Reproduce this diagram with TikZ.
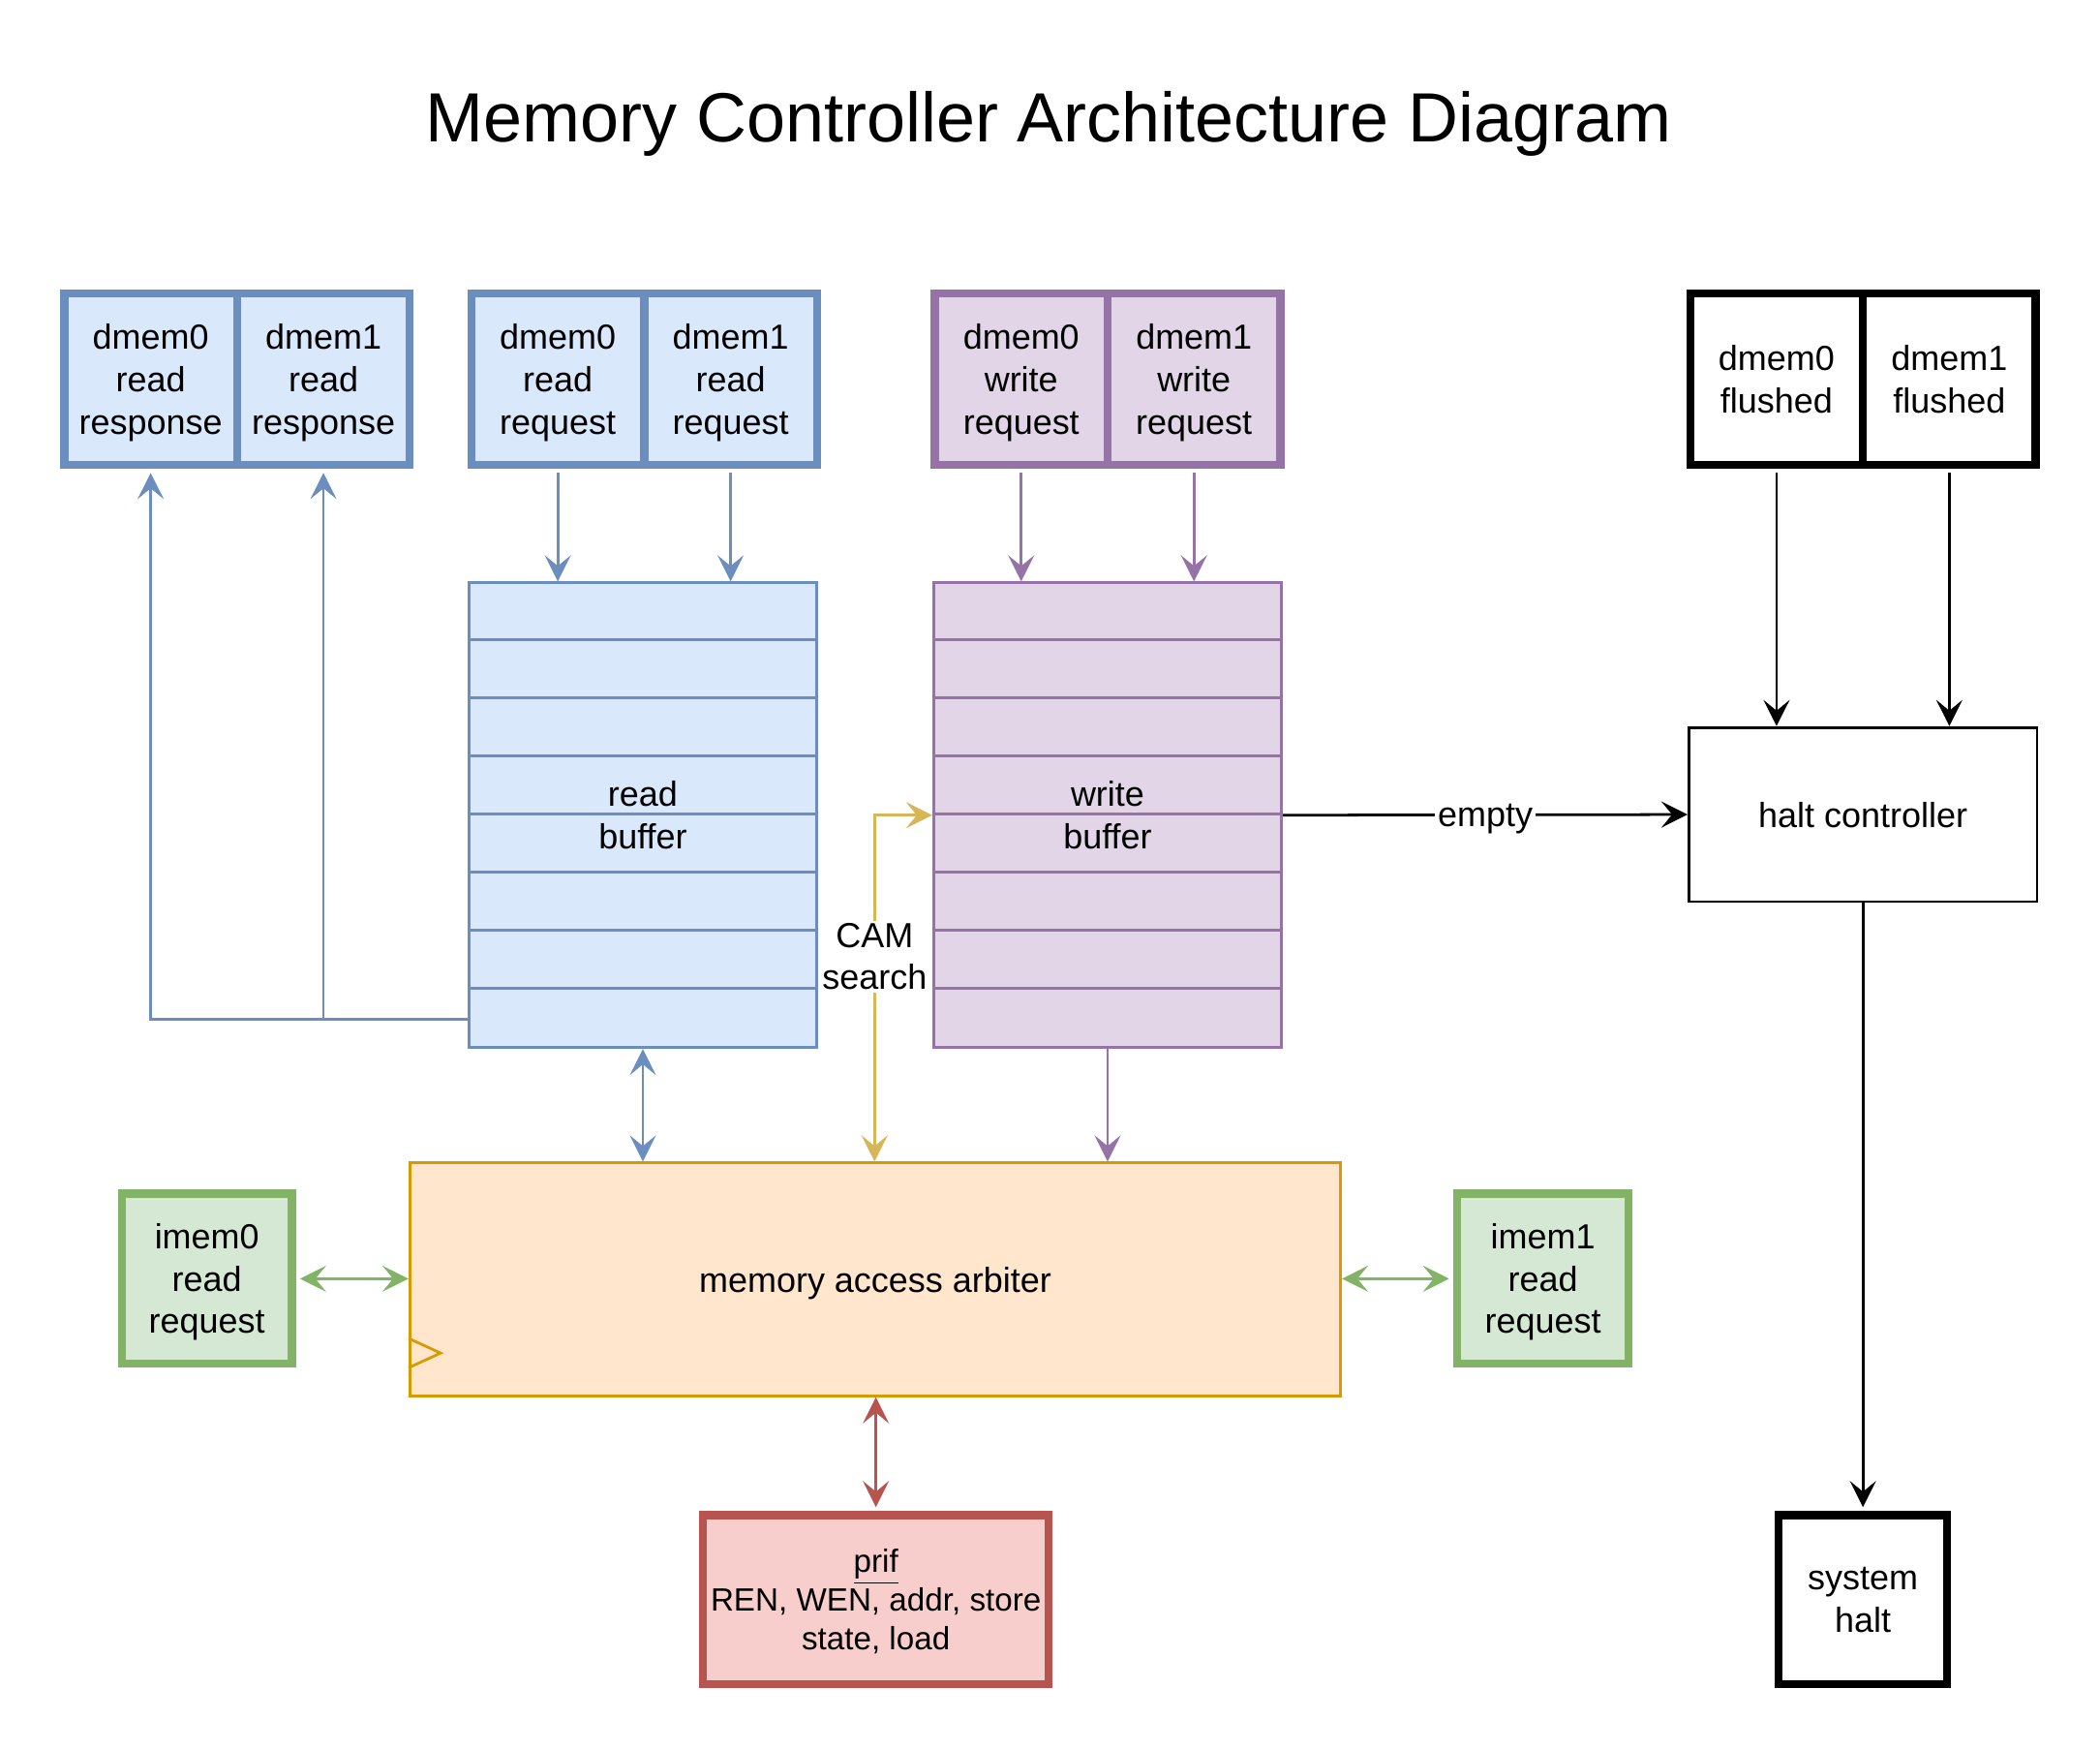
\documentclass[tikz,border=0pt]{standalone}
\usepackage{fontspec}
\setmainfont{Liberation Sans}
\usetikzlibrary{arrows.meta,calc}
\definecolor{bstroke}{HTML}{6C8EBF}
\definecolor{bfill}{HTML}{DAE8FC}
\definecolor{pstroke}{HTML}{9673A6}
\definecolor{pfill}{HTML}{E1D5E7}
\definecolor{gstroke}{HTML}{82B366}
\definecolor{gfill}{HTML}{D5E8D4}
\definecolor{rstroke}{HTML}{B85450}
\definecolor{rfill}{HTML}{F8CECC}
\definecolor{ostroke}{HTML}{D79B00}
\definecolor{ofill}{HTML}{FFE6CC}
\definecolor{ystroke}{HTML}{D6B656}
\begin{document}
\begin{tikzpicture}[x=0.5pt,y=-0.5pt,
  >={Stealth[length=9.75pt,width=9.75pt,inset=4pt]},
  lbl/.style={font=\fontsize{13}{15.75}\selectfont, align=center, text=black, text depth=0pt},
  thickbox/.style={lbl, rectangle, draw, line width=3pt, inner sep=0pt},
  cell/.style={thickbox, minimum width=64.5pt, minimum height=64pt},
  thinbox/.style={lbl, rectangle, draw, line width=1pt, inner sep=0pt},
  bufbox/.style={thinbox, minimum width=130pt, minimum height=173.5pt},
  conn/.style={line width=1pt},
  tothick/.style={shorten >=1.5pt},
  fromthick/.style={shorten <=1.5pt},
  edgelbl/.style={lbl, fill=white, inner sep=1pt}
]
\useasboundingbox (0,0) rectangle (1568,1306);

\node[font=\fontsize{26}{31}\selectfont, text depth=0pt] (title) at (783,87) {Memory Controller Architecture Diagram};

% top groups
\node[cell, draw=bstroke, fill=bfill] (resp0) at (112.5,283) {dmem0\\read\\response};
\node[cell, draw=bstroke, fill=bfill] (resp1) at (241.5,283) {dmem1\\read\\response};
\node[cell, draw=bstroke, fill=bfill] (req0) at (416.5,283) {dmem0\\read\\request};
\node[cell, draw=bstroke, fill=bfill] (req1) at (545.5,283) {dmem1\\read\\request};
\node[cell, draw=pstroke, fill=pfill] (wreq0) at (762.5,283) {dmem0\\write\\request};
\node[cell, draw=pstroke, fill=pfill] (wreq1) at (891.5,283) {dmem1\\write\\request};
\node[cell, draw=black, fill=white] (fl0) at (1326.5,283) {dmem0\\flushed};
\node[cell, draw=black, fill=white] (fl1) at (1455.5,283) {dmem1\\flushed};

% buffers
\node[bufbox, draw=bstroke, fill=bfill] (rb) at (480,608.5) {read\\buffer};
\node[bufbox, draw=pstroke, fill=pfill] (wb) at (827,608.5) {write\\buffer};
\foreach \k in {1,...,7}{
  \draw[conn, bstroke] ($(rb.north west)+(0,\k*43.375)$) -- ++(260,0);
  \draw[conn, pstroke] ($(wb.north west)+(0,\k*43.375)$) -- ++(260,0);
}

% halt
\node[thinbox, draw=black, fill=white, minimum width=130pt, minimum height=65pt] (halt) at (1391,608) {halt controller};
\node[thickbox, draw=black, fill=white, minimum width=63pt, minimum height=63pt] (sys) at (1391,1194) {system\\halt};

% arbiter
\node[thinbox, draw=ostroke, fill=ofill, minimum width=347.5pt, minimum height=87pt] (arb) at (653.5,955) {memory access arbiter};
\draw[conn, ostroke] ($(arb.south west)+(0,-22)$) -- ++(24,-11) -- ++(-24,-11);

\node[thickbox, draw=gstroke, fill=gfill, minimum width=63.5pt, minimum height=63.5pt] (im0) at (154.5,954.5) {imem0\\read\\request};
\node[thickbox, draw=gstroke, fill=gfill, minimum width=64pt, minimum height=63.5pt] (im1) at (1152,954.5) {imem1\\read\\request};
\node[thickbox, draw=rstroke, fill=rfill, minimum width=129pt, minimum height=63pt,
  font=\fontsize{12}{14.5}\selectfont] (prif) at (654,1194) {\underline{prif}\\REN, WEN, addr, store\\state, load};

% connectors: requests
\draw[conn, bstroke, ->, fromthick] (req0.south) -- (req0.south |- rb.north);
\draw[conn, bstroke, ->, fromthick] (req1.south) -- (req1.south |- rb.north);
\draw[conn, pstroke, ->, fromthick] (wreq0.south) -- (wreq0.south |- wb.north);
\draw[conn, pstroke, ->, fromthick] (wreq1.south) -- (wreq1.south |- wb.north);

% responses
\coordinate (rtap) at ($(rb.south west)+(0,-22)$);
\draw[conn, bstroke, ->, tothick] (rtap) -| (resp0.south);
\draw[conn, bstroke, ->, tothick] (rtap) -| (resp1.south);

% buffers to arbiter
\draw[conn, bstroke, <->] (rb.south) -- (rb.south |- arb.north);
\draw[conn, pstroke, ->] (wb.south) -- (wb.south |- arb.north);
\draw[conn, ystroke, <->] ([xshift=-0.25pt]arb.north) |- (wb.west)
  node[edgelbl, pos=0.296] (cam) {CAM\\search};

% halt
\draw[conn, black, ->] (wb.east) -- (halt.west) node[edgelbl, midway] (emp) {empty};
\draw[conn, black, ->, fromthick] (fl0.south) -- (fl0.south |- halt.north);
\draw[conn, black, ->, fromthick] (fl1.south) -- (fl1.south |- halt.north);
\draw[conn, black, ->, tothick] (halt.south) -- (sys.north);

% imem and prif
\draw[conn, gstroke, <->, fromthick] (im0.east) -- (arb.west |- im0.east);
\draw[conn, gstroke, <->, tothick] (arb.east |- im1.west) -- (im1.west);
\draw[conn, rstroke, <->, tothick] (prif.north |- arb.south) -- (prif.north);
\end{tikzpicture}
\end{document}
